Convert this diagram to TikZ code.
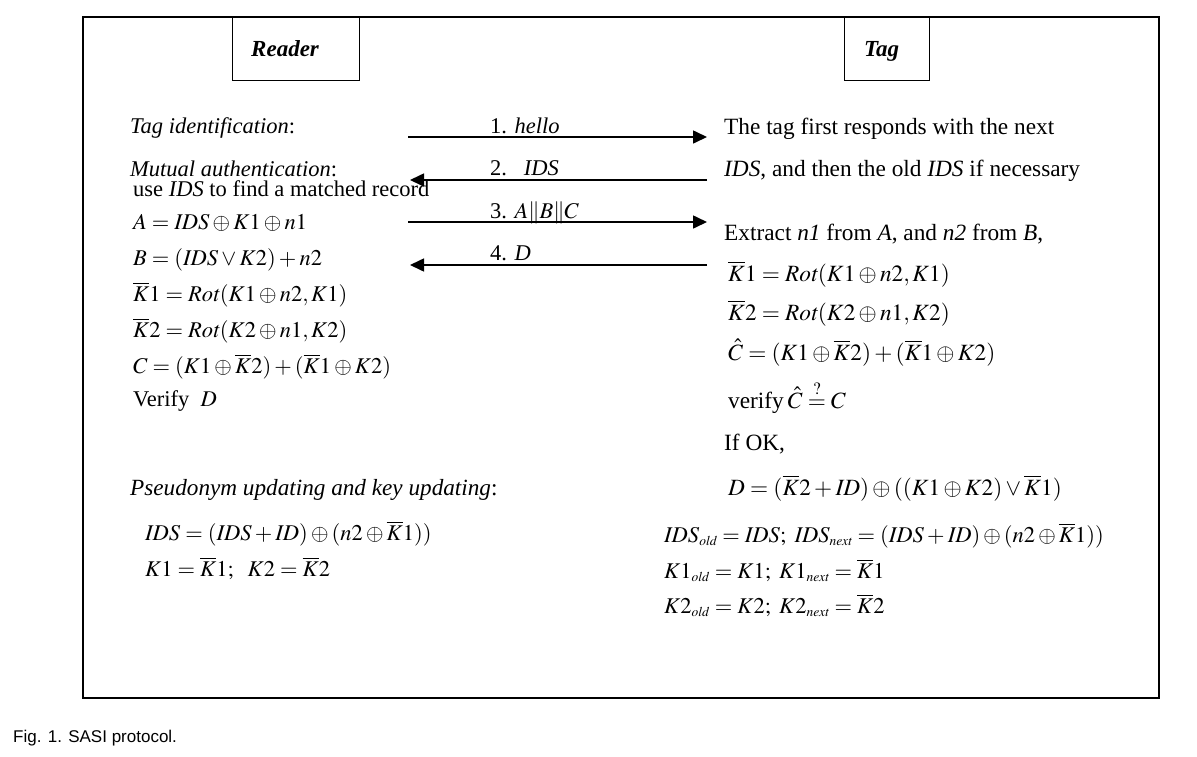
\documentclass[tikz,border=0pt]{standalone}
\usepackage{mathptmx}
\usepackage{fontspec}
\setmainfont{Liberation Serif}
\newfontfamily\capfont{Liberation Sans}
\usetikzlibrary{arrows.meta}
\begin{document}
\begin{tikzpicture}[x=1pt,y=-1pt,
  txt/.style={anchor=base west, inner sep=0pt, font=\fontsize{22.5}{27}\selectfont},
  rtxt/.style={anchor=base west, inner sep=0pt, font=\fontsize{23.3}{27}\selectfont},
  hbox/.style={draw, line width=1.3pt, anchor=north west, inner sep=0pt},
  htxt/.style={anchor=base west, inner sep=0pt, font=\fontsize{23}{27}\selectfont\bfseries\itshape},
  msg/.style={line width=1.6pt, -{Triangle[length=14pt,width=13pt]}},
  lab/.style={anchor=base west, inner sep=0pt, font=\fontsize{22.5}{27}\selectfont}]
\useasboundingbox (0,0) rectangle (1197,756);
% frame and headers
\node[draw, line width=1.7pt, anchor=north west, inner sep=0pt, minimum width=1076pt, minimum height=681pt] (frame) at (82,16) {};
\node[hbox, minimum width=127pt, minimum height=64pt] (reader) at (232,16) {};
\node[hbox, minimum width=85pt, minimum height=64pt] (tag) at (844,16) {};
\node[htxt] (readertxt) at (251,56) {Reader};
\node[htxt] (tagtxt) at (864,56) {Tag};
% left column
\node[txt] (l1) at (130,133) {\textit{Tag identification}:};
\node[txt] (l2) at (130,176) {\textit{Mutual authentication}:};
\node[txt] (l3) at (133,196) {use \textit{IDS} to find a matched record};
\node[txt] (l4) at (133,229) {$A=\mathit{IDS}\oplus K1\oplus n1$};
\node[txt] (l5) at (133,265) {$B=(\mathit{IDS}\vee K2)+n2$};
\node[txt] (l6) at (133,301) {$\overline{K}1=\mathit{Rot}(K1\oplus n2,K1)$};
\node[txt] (l7) at (133,337) {$\overline{K}2=\mathit{Rot}(K2\oplus n1,K2)$};
\node[txt] (l8) at (133,373) {$C=(K1\oplus\overline{K}2)+(\overline{K}1\oplus K2)$};
\node[txt] (l9) at (133,406) {Verify\ \ $D$};
\node[txt, font=\fontsize{23.2}{27}\selectfont] (l10) at (130,495) {\textit{Pseudonym updating and key updating}:};
\node[txt] (l11) at (145,540) {$\mathit{IDS}=(\mathit{IDS}+\mathit{ID})\oplus(n2\oplus\overline{K}1))$};
\node[txt] (l12) at (145,576) {$K1=\overline{K}1;\ \ K2=\overline{K}2$};
% messages
\coordinate (m1s) at (408,137); \coordinate (m1e) at (707,137);
\coordinate (m2s) at (707,180); \coordinate (m2e) at (410,180);
\coordinate (m3s) at (408,222); \coordinate (m3e) at (707,222);
\coordinate (m4s) at (707,265); \coordinate (m4e) at (410,265);
\draw[msg] (m1s) -- (m1e);
\draw[msg] (m2s) -- (m2e);
\draw[msg] (m3s) -- (m3e);
\draw[msg] (m4s) -- (m4e);
\node[lab] (t1) at (490,133) {1. \textit{hello}};
\node[lab] (t2) at (490,175) {2.\ \ \ \textit{IDS}};
\node[lab] (t3) at (490,218) {3. $A\|B\|C$};
\node[lab] (t4) at (490,260) {4. \textit{D}};
% right column
\node[rtxt] (r1) at (724,134) {The tag first responds with the next};
\node[rtxt] (r2) at (724,176) {\textit{IDS}, and then the old \textit{IDS} if necessary};
\node[rtxt] (r3) at (724,240) {Extract \textit{n1} from \textit{A}, and \textit{n2} from \textit{B},};
\node[rtxt] (r4) at (728,281) {$\overline{K}1=\mathit{Rot}(K1\oplus n2,K1)$};
\node[rtxt] (r5) at (728,320) {$\overline{K}2=\mathit{Rot}(K2\oplus n1,K2)$};
\node[rtxt] (r6) at (728,360) {$\hat{C}=(K1\oplus\overline{K}2)+(\overline{K}1\oplus K2)$};
\node[rtxt] (r7) at (728,408) {verify\,$\hat{C}\stackrel{?}{=}C$};
\node[rtxt] (r8) at (724,450) {If OK,};
\node[rtxt] (r9) at (728,495) {$D=(\overline{K}2+\mathit{ID})\oplus((K1\oplus K2)\vee\overline{K}1)$};
\node[txt] (r10) at (664,542) {$\mathit{IDS}_{\scriptscriptstyle\mathit{old}}=\mathit{IDS};\ \mathit{IDS}_{\scriptscriptstyle\mathit{next}}=(\mathit{IDS}+\mathit{ID})\oplus(n2\oplus\overline{K}1))$};
\node[txt] (r11) at (664,578) {$K1_{\scriptscriptstyle\mathit{old}}=K1;\ K1_{\scriptscriptstyle\mathit{next}}=\overline{K}1$};
\node[txt] (r12) at (664,613) {$K2_{\scriptscriptstyle\mathit{old}}=K2;\ K2_{\scriptscriptstyle\mathit{next}}=\overline{K}2$};
% caption
\node[anchor=base west, inner sep=0pt, font=\capfont\fontsize{17}{20}\selectfont] (cap) at (13,742) {Fig. 1. SASI protocol.};
\end{tikzpicture}
\end{document}
